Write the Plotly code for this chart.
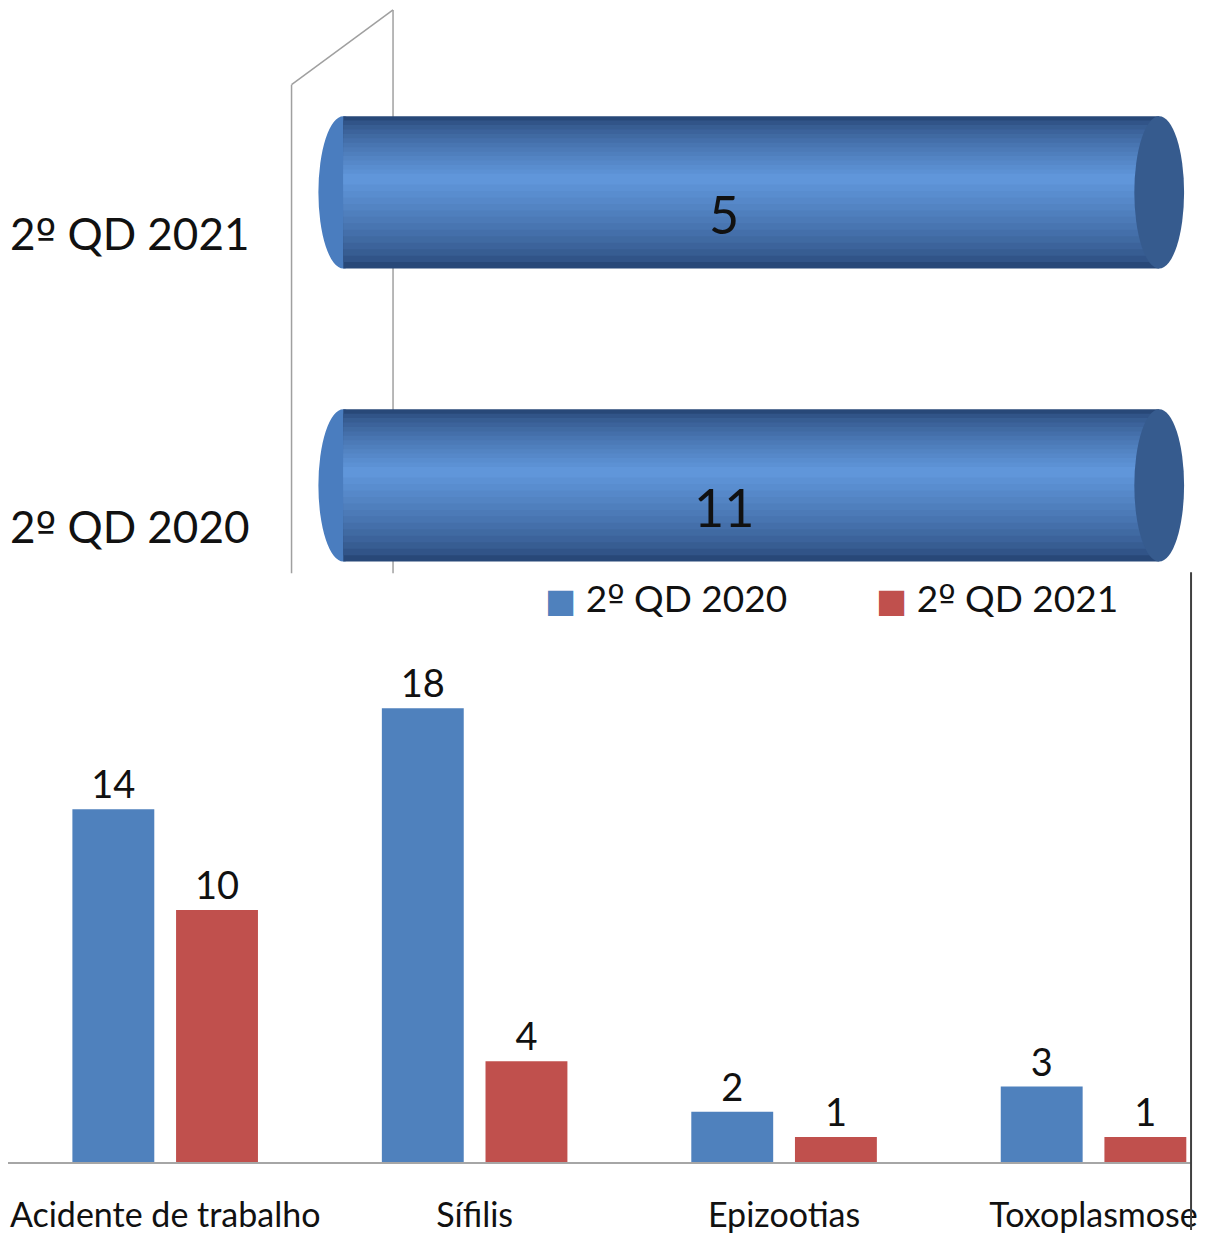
import plotly.graph_objects as go

# ---------------- data ----------------
top_categories = ["2º QD 2020", "2º QD 2021"]
top_values = [11, 5]

categories = ["Acidente de trabalho", "Sífilis", "Epizootias", "Toxoplasmose"]
series_names = ["2º QD 2020", "2º QD 2021"]
values_2020 = [14, 18, 2, 3]
values_2021 = [10, 4, 1, 1]

# ---------------- styles ----------------
OFF = 0
W, H = 1206, 1234
FONT = "Lato, 'Liberation Sans', sans-serif"
BLUE = "#4F81BD"
RED = "#C0504D"


def px_x(x):
    return (x - OFF) / W


def px_y(y):
    return 1 - (y - OFF) / H


def fmt(label):
    # ordinal indicator drawn with a font that keeps its underline
    return label.replace("º", "<span style='font-family:DejaVu Sans'>º</span>")


fig = go.Figure()

# ---------- top chart: 3D-like cylinders (each row normalised to 100 %) ----------
row_tot = [v for v in top_values]  # single series -> row total equals its value
top_pct = [v / t * 100 for v, t in zip(top_values, row_tot)]
ypos = list(range(len(top_categories)))

thick = 0.52
n_layers = 14
edge = (40, 72, 120)
center = (96, 150, 218)
for k in range(n_layers):
    f = k / (n_layers - 1)
    w = thick * (1 - 0.93 * f)
    col = tuple(int(edge[j] + (center[j] - edge[j]) * (f ** 0.7)) for j in range(3))
    shift = 0.045 * f
    fig.add_trace(go.Bar(
        x=top_pct, y=ypos, orientation="h",
        width=w, offset=-w / 2 + shift,
        marker=dict(color="rgb(%d,%d,%d)" % col, line=dict(width=0)),
        xaxis="x2", yaxis="y2", showlegend=False, hoverinfo="skip",
    ))

# cylinder end caps and value labels
for i, p in enumerate(top_pct):
    fig.add_shape(type="circle", xref="x2", yref="y2",
                  x0=-3.05, x1=3.05, y0=ypos[i] - thick / 2, y1=ypos[i] + thick / 2,
                  fillcolor="#4A7DBF", line=dict(width=0), layer="below")
    fig.add_shape(type="circle", xref="x2", yref="y2",
                  x0=p - 3.05, x1=p + 3.05, y0=ypos[i] - thick / 2, y1=ypos[i] + thick / 2,
                  fillcolor="#365B8E", line=dict(width=0), layer="above")
    fig.add_annotation(x=p / 2, y=ypos[i], xref="x2", yref="y2", text=str(top_values[i]),
                       showarrow=False, xshift=-27, yshift=-22,
                       font=dict(family=FONT, size=52, color="#111111"))

# 3D wall lines
wall = [((293, 85), (293, 575)), ((293, 85), (395, 10)), ((395, 10), (395, 575))]
for (x0, y0), (x1, y1) in wall:
    fig.add_shape(type="line", xref="paper", yref="paper",
                  x0=px_x(x0), y0=px_y(y0), x1=px_x(x1), y1=px_y(y1),
                  line=dict(color="#A0A0A0", width=1.5), layer="below")

# ---------- bottom chart: grouped columns ----------
for name, vals, col in [(series_names[0], values_2020, BLUE), (series_names[1], values_2021, RED)]:
    fig.add_trace(go.Bar(
        x=categories, y=vals, name=name,
        marker=dict(color=col, line=dict(width=0)),
        text=vals, textposition="outside", constraintext="none", cliponaxis=False,
        textfont=dict(family=FONT, size=38, color="#111111"),
        showlegend=False,
    ))

# legend (drawn as text)
for nm, col, xpx in [(series_names[0], BLUE, 546), (series_names[1], RED, 878)]:
    fig.add_annotation(xref="paper", yref="paper", x=px_x(xpx), y=px_y(600),
                       xanchor="left", yanchor="middle", showarrow=False,
                       text="<span style='color:%s;font-size:33px;font-family:DejaVu Sans'>■</span> %s"
                            % (col, fmt(nm)),
                       font=dict(family=FONT, size=37, color="#111111"))

# right border of the lower chart
fig.add_shape(type="line", xref="paper", yref="paper",
              x0=px_x(1197), x1=px_x(1197), y0=px_y(574), y1=0,
              line=dict(color="#404040", width=2))

# ---------------- layout ----------------
scale_top = (1165 - 345) / 100.0
cat_px = 311.0
r0 = -(166 - OFF) / cat_px
fig.update_layout(
    width=W, height=H,
    margin=dict(l=0, r=0, t=0, b=0),
    paper_bgcolor="white", plot_bgcolor="rgba(0,0,0,0)",
    barmode="group", bargap=0.33, bargroupgap=0.21,
    font=dict(family=FONT, color="#111111"),
    xaxis=dict(domain=[px_x(8), px_x(1197)], range=[r0 + 8 / cat_px, r0 + (1197 - OFF) / cat_px],
               showline=True, linecolor="#A6A6A6", linewidth=1.5,
               ticks="", showgrid=False, zeroline=False,
               tickfont=dict(family=FONT, size=34, color="#111111"),
               ticklabelstandoff=22),
    yaxis=dict(domain=[px_y(1166), px_y(660)], range=[0, 20], visible=False),
    xaxis2=dict(domain=[px_x(312), 1], anchor="y2",
                range=[-(345 - 312) / scale_top, (OFF + W - 345) / scale_top],
                visible=False),
    yaxis2=dict(domain=[px_y(575), 1], anchor="x2", range=[-88 / 294, 1 + (193 - OFF) / 294],
                tickvals=[i - 0.143 for i in ypos], ticktext=[fmt(c) for c in top_categories],
                ticks="", showline=False, showgrid=False, zeroline=False,
                tickfont=dict(family=FONT, size=44, color="#111111"),
                ticklabelstandoff=60),
)

post = ("document.body.style.margin='0';document.body.style.padding='0';"
        "document.body.style.lineHeight='0';"
        "document.body.style.overflow='hidden';"
        "document.documentElement.style.overflow='hidden';"
        "var c=document.querySelectorAll('.svg-container');"
        "for(var i=0;i<c.length;i++){c[i].style.display='block';}")
fig.write_html("out.html", post_script=post, config={"displayModeBar": False})
